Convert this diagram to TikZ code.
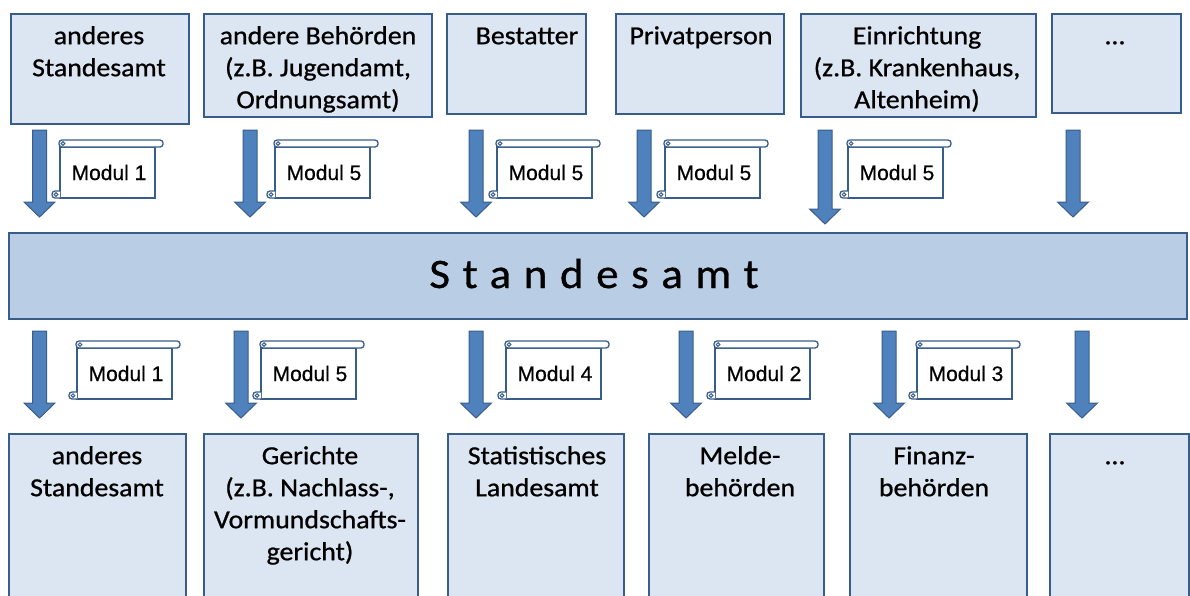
\documentclass[tikz,border=0pt]{standalone}
\usepackage{fontspec}
\setmainfont{Carlito}[FakeStretch=1.07, FakeBold=0.8]
\newfontfamily\modulfont{Liberation Sans}[FakeBold=0.6]
\usetikzlibrary{positioning}
\definecolor{boxFill}{HTML}{DCE6F2}
\definecolor{barFill}{HTML}{B9CDE5}
\definecolor{lineBlue}{HTML}{385D8A}
\definecolor{arrowBlue}{HTML}{4F81BD}
\tikzset{
    partnerBox/.style={draw=lineBlue, fill=boxFill, line width=1.6pt, anchor=north west, inner sep=0pt},
    partnerText/.style={anchor=north, align=center, inner sep=0pt, font=\fontsize{26}{32}\selectfont},
    modulText/.style={font=\modulfont\fontsize{21}{24}\selectfont, inner sep=0pt},
    scrollLine/.style={draw=lineBlue, fill=white, line width=1.3pt},
    blockArrow/.style={draw=lineBlue, fill=arrowBlue, line width=1pt},
    pics/downArrow/.style={code={
        \draw[blockArrow] (-7,0) -- (7,0) -- (7,#1-15) -- (15.5,#1-15) -- (0,#1)
            -- (-15.5,#1-15) -- (-7,#1-15) -- cycle;}},
    pics/modulScroll/.style={code={
        \draw[scrollLine] (0,7) rectangle (95,58);
        \draw[scrollLine, rounded corners=3pt] (-1,0) rectangle (103,7);
        \draw[lineBlue, line width=1pt] (3,3.5) circle (1.8);
        \draw[scrollLine, rounded corners=3pt] (0,51) -- (-8,51) -- (-8,58) -- (0,58);
        \draw[lineBlue, line width=1pt] (-4,54.5) circle (1.8);}}
}

\begin{document}
\begin{tikzpicture}[x=1pt, y=-1pt]
    \useasboundingbox (0,0) rectangle (1190,595);
    % senders
    \foreach \xa/\ya/\xb/\yb/\cx/\n/\txt in {
        10/13/188/123/99/src1/{anderes\\Standesamt},
        203/13/431/116/318/src2/{andere Behörden\\(z.B. Jugendamt,\\Ordnungsamt)},
        446/13/585/113/527/src3/{Bestatter},
        615/13/783/113/701/src4/{Privatperson},
        800/13/1035/116/917/src5/{Einrichtung\\(z.B. Krankenhaus,\\Altenheim)},
        1051/13/1180/112/1115/src6/{…}}{
        \node[partnerBox, minimum width=\xb-\xa, minimum height=\yb-\ya] (\n) at (\xa,\ya) {};
        \node[partnerText] (\n-text) at (\cx,\ya+8.6) {\strut\txt};
    }
    % receivers
    \foreach \xa/\xb/\cx/\n/\txt in {
        8/185/97/dst1/{anderes\\Standesamt},
        203/417/310/dst2/{Gerichte\\(z.B. Nachlass-,\\Vormundschafts-\\gericht)},
        447/623/537/dst3/{Statistisches\\Landesamt},
        648/823/740/dst4/{Melde-\\behörden},
        849/1026/934/dst5/{Finanz-\\behörden},
        1049/1188/1115/dst6/{…}}{
        \node[partnerBox, minimum width=\xb-\xa, minimum height=170] (\n) at (\xa,433) {};
        \node[partnerText] (\n-text) at (\cx,441.6) {\strut\txt};
    }
    % Standesamt
    \node[draw=lineBlue, fill=barFill, line width=2pt, anchor=north west, inner sep=0pt,
          minimum width=1178, minimum height=86] (amt) at (8,232) {};
    \node[anchor=base, inner sep=0pt, font=\fontsize{42}{50}\selectfont] (amt-text) at (594,288)
        {\addfontfeature{LetterSpace=30}Standesamt};
    % arrows in
    \foreach \ax/\len in {39.5/87, 250/87, 476/87, 644/87, 825/94, 1073/87}
        \pic at (\ax,130) {downArrow=\len};
    % arrows out
    \foreach \ax in {39.5, 241, 476, 686, 889, 1082}
        \pic at (\ax,331) {downArrow=87};
    % scrolls
    \foreach \sx/\sy/\m/\n in {60/140/1/in1, 275/140/5/in2, 497/140/5/in3, 665/140/5/in4, 848/140/5/in5,
        77/341/1/out1, 261/341/5/out2, 506/341/4/out3, 715/341/2/out4, 917/341/3/out5}{
        \pic at (\sx,\sy) {modulScroll};
        \node[modulText] (\n) at (\sx+49,\sy+32.5) {Modul \m};
    }
\end{tikzpicture}
\end{document}
